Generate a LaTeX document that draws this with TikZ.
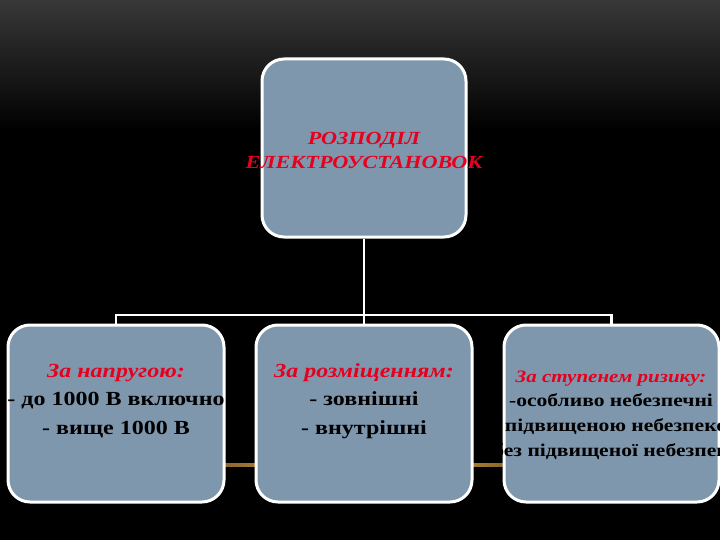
\documentclass[tikz,border=0pt]{standalone}
\usepackage{fontspec}
\setmainfont[FakeStretch=1.2]{Liberation Serif}
\definecolor{boxfill}{RGB}{127,151,173}
\definecolor{headred}{RGB}{230,0,30}
\definecolor{glow}{RGB}{255,190,80}
\definecolor{bgtop}{RGB}{56,56,56}
\tikzset{
  box/.style={draw=white, line width=3pt, fill=boxfill, rounded corners=22pt, inner sep=0pt},
  conn/.style={draw=white, line width=2.5pt},
  txt/.style={align=center, inner sep=0pt, font=\bfseries},
}
\begin{document}
\begin{tikzpicture}[x=1pt, y=-1pt]
\useasboundingbox (0,0) rectangle (720,540);
\clip (0,0) rectangle (720,540);
% background
\fill[black] (0,0) rectangle (720,540);
\shade[top color=bgtop, bottom color=black] (0,0) rectangle (720,130);
% glowing line
\shade[left color=black, right color=black, middle color=glow] (60,463.5) rectangle (670,466.5);
% boxes
\node[box, minimum width=204pt, minimum height=178pt] (top) at (364,148) {};
\node[box, minimum width=216pt, minimum height=177pt] (left) at (116,413.5) {};
\node[box, minimum width=216pt, minimum height=177pt] (mid) at (364,413.5) {};
\node[box, minimum width=215pt, minimum height=177pt] (right) at (611.5,413.5) {};
% connectors
\coordinate (bus) at (364,315);
\draw[conn] (top.south) -- (mid.north);
\draw[conn] (left.north) -- (left.north |- bus) -- (right.north |- bus) -- (right.north);
% texts
\node[txt, font=\bfseries\itshape\fontsize{18.5}{24}\selectfont, text=headred] (toptext) at (364,150)
  {РОЗПОДІЛ\\ЕЛЕКТРОУСТАНОВОК};
\node[txt, font=\bfseries\fontsize{20}{28.5}\selectfont] (lefttext) at (116,401)
  {\textcolor{headred}{\itshape За напругою:}\\- до 1000 В включно\\- вище 1000 В};
\node[txt, font=\bfseries\fontsize{20}{28.5}\selectfont] (midtext) at (364,401)
  {\textcolor{headred}{\itshape За розміщенням:}\\- зовнішні\\- внутрішні};
\node[txt, font=\bfseries\fontsize{18}{24.7}\selectfont] (righttext) at (611,415)
  {\textcolor{headred}{\itshape\fontsize{17.5}{24.7}\selectfont За ступенем ризику:}\\-особливо небезпечні\\- з підвищеною небезпекою\\- без підвищеної небезпеки};
\end{tikzpicture}
\end{document}
